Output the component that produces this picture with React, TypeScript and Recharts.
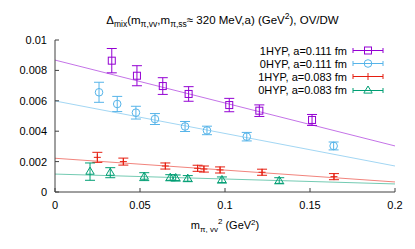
import {
  ComposedChart,
  Scatter,
  XAxis,
  YAxis,
  ErrorBar,
  ReferenceLine,
  Legend,
} from 'recharts';

const xTicks = [0, 0.05, 0.1, 0.15, 0.2];
const xTickLabels = ['0', '0.05', '0.1', '0.15', '0.2'];
const yTicks = [0, 0.002, 0.004, 0.006, 0.008, 0.01];
const yTickLabels = ['0', '0.002', '0.004', '0.006', '0.008', '0.01'];

// 1HYP, a=0.111 fm
const hyp1Coarse_x = [0.0334, 0.0482, 0.0634, 0.0786, 0.1025, 0.1202, 0.1512];
const hyp1Coarse_y = [0.00864, 0.00765, 0.00697, 0.00645, 0.00572, 0.00535, 0.00474];
const hyp1Coarse_err = [0.0008, 0.00066, 0.00055, 0.00048, 0.00044, 0.00038, 0.00036];

// 0HYP, a=0.111 fm
const hyp0Coarse_x = [0.0259, 0.0366, 0.0476, 0.0588, 0.0765, 0.0894, 0.1128, 0.1639];
const hyp0Coarse_y = [0.00656, 0.00579, 0.00522, 0.0048, 0.00431, 0.00405, 0.00364, 0.00303];
const hyp0Coarse_err = [0.00066, 0.0005, 0.00042, 0.00036, 0.00033, 0.00028, 0.00028, 0.00026];

// 1HYP, a=0.083 fm
const hyp1Fine_x = [0.0249, 0.0402, 0.0649, 0.0839, 0.0876, 0.0971, 0.1218, 0.1641];
const hyp1Fine_y = [0.00228, 0.002, 0.00171, 0.00156, 0.00151, 0.00145, 0.0013, 0.00101];
const hyp1Fine_err = [0.00033, 0.00023, 0.0002, 0.0002, 0.0002, 0.0002, 0.0002, 0.0002];

// 0HYP, a=0.083 fm
const hyp0Fine_x = [0.0206, 0.0325, 0.0525, 0.0678, 0.071, 0.0781, 0.0982, 0.1319];
const hyp0Fine_y = [0.00134, 0.00127, 0.00101, 0.00094, 0.00092, 0.00088, 0.00079, 0.00074];
const hyp0Fine_err = [0.00057, 0.00033, 0.00026, 0.0002, 0.0002, 0.0002, 0.0002, 0.0002];

// linear fits: value at x=0 and at x=0.2
const fitStart = [0.00868, 0.00599, 0.00222, 0.00118];
const fitEnd = [0.00303, 0.00171, 0.00066, 0.00053];

const names = ['1HYP, a=0.111 fm', '0HYP, a=0.111 fm', '1HYP, a=0.083 fm', '0HYP, a=0.083 fm'];
const colors = ['#9400d3', '#56b4e9', '#e51e10', '#009e73'];
const markers = ['square', 'circle', 'plus', 'triangle'];

const toPoints = (xs: number[], ys: number[], es: number[]) =>
  xs.map((x, i) => ({ x, y: ys[i], e: es[i] }));

const series = [
  toPoints(hyp1Coarse_x, hyp1Coarse_y, hyp1Coarse_err),
  toPoints(hyp0Coarse_x, hyp0Coarse_y, hyp0Coarse_err),
  toPoints(hyp1Fine_x, hyp1Fine_y, hyp1Fine_err),
  toPoints(hyp0Fine_x, hyp0Fine_y, hyp0Fine_err),
];

const axisColor = '#404040';
const font = '"Liberation Sans", Arial, sans-serif';
const tickLen = 4;

function Marker({ kind, cx, cy, color }: any) {
  if (kind === 'square') {
    return <rect x={cx - 3.5} y={cy - 3.5} width={7} height={7} fill="none" stroke={color} strokeWidth={1} />;
  }
  if (kind === 'circle') {
    return <circle cx={cx} cy={cy} r={3.8} fill="none" stroke={color} strokeWidth={1} />;
  }
  if (kind === 'triangle') {
    return (
      <path
        d={`M${cx},${cy - 4.5}L${cx + 4.2},${cy + 2.6}L${cx - 4.2},${cy + 2.6}Z`}
        fill="none"
        stroke={color}
        strokeWidth={1}
      />
    );
  }
  return (
    <path d={`M${cx - 3.5},${cy}H${cx + 3.5}M${cx},${cy - 3.5}V${cy + 3.5}`} stroke={color} strokeWidth={1} fill="none" />
  );
}

const BottomTick = ({ x, y, index }: any) => (
  <g>
    <line x1={x} x2={x} y1={y} y2={y - tickLen} stroke={axisColor} />
    <text x={x} y={y + 17} textAnchor="middle" fontSize={11} fontFamily={font} fill="#000">
      {xTickLabels[index]}
    </text>
  </g>
);

const TopTick = ({ x, y }: any) => <line x1={x} x2={x} y1={y} y2={y + tickLen} stroke={axisColor} />;

const LeftTick = ({ x, y, index }: any) => (
  <g>
    <line x1={x} x2={x + tickLen} y1={y} y2={y} stroke={axisColor} />
    <text x={x - 8} y={y + 4} textAnchor="end" fontSize={11} fontFamily={font} fill="#000">
      {yTickLabels[index]}
    </text>
  </g>
);

const RightTick = ({ x, y }: any) => <line x1={x} x2={x - tickLen} y1={y} y2={y} stroke={axisColor} />;

const XLabel = ({ viewBox }: any) => {
  const cx = viewBox.x + viewBox.width / 2;
  return (
    <text x={cx} y={viewBox.y + 37} textAnchor="middle" fontSize={11} fontFamily={font} fill="#000">
      m
      <tspan fontSize={8} dy={3}>π, vv</tspan>
      <tspan fontSize={8} dy={-8}>2</tspan>
      <tspan dy={5}> (GeV</tspan>
      <tspan fontSize={8} dy={-4}>2</tspan>
      <tspan dy={4}>)</tspan>
    </text>
  );
};

const LegendBox = () => (
  <div style={{ fontFamily: font, fontSize: 11, color: '#000' }}>
    {names.map((n, i) => (
      <div key={n} style={{ display: 'flex', justifyContent: 'flex-end', alignItems: 'center', height: 13.2 }}>
        <span style={{ marginRight: 4, whiteSpace: 'nowrap' }}>{n}</span>
        <svg width={34} height={13}>
          <line x1={2} x2={32} y1={6.5} y2={6.5} stroke={colors[i]} />
          <line x1={2} x2={2} y1={4} y2={9} stroke={colors[i]} />
          <line x1={32} x2={32} y1={4} y2={9} stroke={colors[i]} />
          <Marker kind={markers[i]} cx={17} cy={6.5} color={colors[i]} />
        </svg>
      </div>
    ))}
  </div>
);

export default function App() {
  return (
    <div style={{ position: 'fixed', left: 0, top: 0, width: 415, height: 249, background: '#fff' }}>
      <div
        style={{
          position: 'absolute',
          left: 0,
          width: 445,
          top: 9,
          textAlign: 'center',
          fontFamily: font,
          fontSize: 11.5,
          whiteSpace: 'nowrap',
          lineHeight: '14px',
        }}
      >
        Δ<sub style={{ fontSize: 8.5 }}>mix</sub>(m<sub style={{ fontSize: 8.5 }}>π,vv</sub>,m
        <sub style={{ fontSize: 8.5 }}>π,ss</sub>≈ 320 MeV,a) (GeV<sup style={{ fontSize: 8.5 }}>2</sup>), OV/DW
      </div>
      <ComposedChart width={415} height={249} margin={{ top: 40, right: 20, bottom: 0, left: 0 }}>
        <XAxis
          dataKey="x"
          type="number"
          domain={[0, 0.2]}
          ticks={xTicks}
          height={57}
          tickSize={0}
          tickMargin={0}
          tickLine={false}
          tick={<BottomTick />}
          stroke={axisColor}
          label={XLabel}
        />
        <XAxis
          xAxisId="top"
          orientation="top"
          type="number"
          domain={[0, 0.2]}
          ticks={xTicks}
          height={0}
          tickSize={0}
          tickMargin={0}
          tickLine={false}
          tick={<TopTick />}
          stroke={axisColor}
        />
        <YAxis
          dataKey="y"
          type="number"
          domain={[0, 0.01]}
          ticks={yTicks}
          width={55}
          tickSize={0}
          tickMargin={0}
          tickLine={false}
          tick={<LeftTick />}
          stroke={axisColor}
        />
        <YAxis
          yAxisId="right"
          orientation="right"
          type="number"
          domain={[0, 0.01]}
          ticks={yTicks}
          width={0}
          tickSize={0}
          tickMargin={0}
          tickLine={false}
          tick={<RightTick />}
          stroke={axisColor}
        />
        {fitStart.map((s, i) => (
          <ReferenceLine
            key={`fit${i}`}
            segment={[
              { x: 0, y: s },
              { x: 0.2, y: fitEnd[i] },
            ]}
            stroke={colors[i]}
            strokeOpacity={0.55}
            strokeWidth={1}
          />
        ))}
        {series.map((pts, i) => (
          <Scatter
            key={names[i]}
            name={names[i]}
            data={pts}
            isAnimationActive={false}
            shape={(p: any) => <Marker kind={markers[i]} cx={p.cx} cy={p.cy} color={colors[i]} />}
          >
            <ErrorBar dataKey="e" direction="y" width={5} stroke={colors[i]} strokeWidth={1} />
          </Scatter>
        ))}
        <Legend
          layout="vertical"
          align="center"
          verticalAlign="middle"
          wrapperStyle={{ left: 185, top: 44, width: 200 }}
          content={<LegendBox />}
        />
      </ComposedChart>
    </div>
  );
}
